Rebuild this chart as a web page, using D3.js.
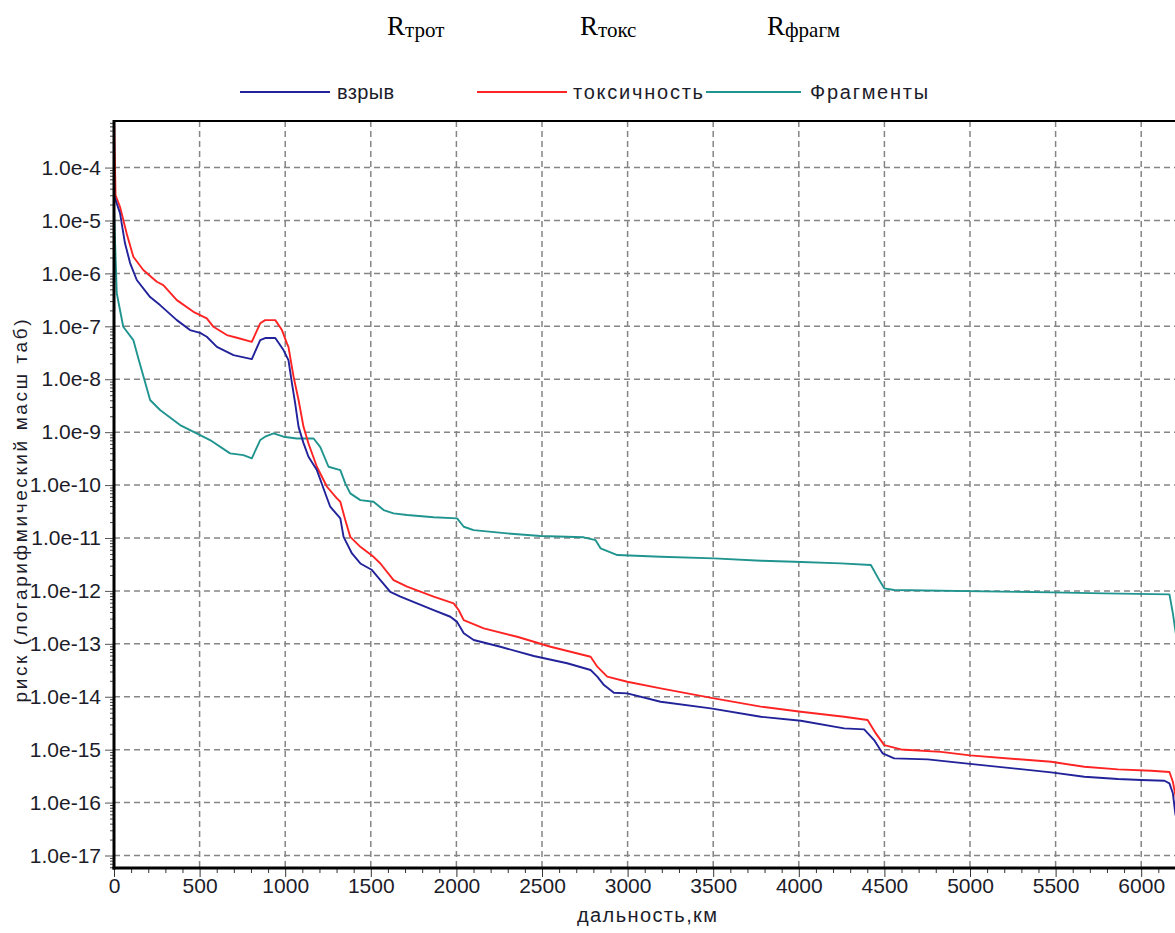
<!DOCTYPE html>
<html>
<head>
<meta charset="utf-8">
<script src="https://cdn.jsdelivr.net/npm/d3@7"></script>
<style>
  html, body { margin: 0; padding: 0; background: #fff; }
  svg { display: block; }
</style>
</head>
<body>
<svg id="chart" width="1175" height="933"></svg>
<script>
// ---- data: risk vs. distance for each hazard ----
const blastKm = [0, 35, 64, 94, 133, 211, 269, 367, 444, 503, 542, 601, 698, 805, 854, 883, 942, 990, 1019, 1039,
  1058, 1078, 1107, 1136, 1185, 1244, 1263, 1322, 1341, 1390, 1439, 1507, 1556, 1614, 1673, 1770, 1867, 1965, 2004,
  2043, 2101, 2257, 2452, 2647, 2784, 2823, 2862, 2920, 2998, 3193, 3486, 3778, 4012, 4265, 4382, 4440, 4490, 4557,
  4753, 5000, 5474, 5668, 5864, 6000, 6136, 6165, 6185, 6199, 6240];
const blastRisk = [3.0e-5, 1.38e-5, 3.74e-6, 1.57e-6, 7.5e-7, 3.57e-7, 2.52e-7, 1.31e-7, 8.5e-8, 7.5e-8, 6.35e-8,
  4.1e-8, 2.86e-8, 2.4e-8, 5.5e-8, 6.0e-8, 6.0e-8, 3.56e-8, 2.3e-8, 8.5e-9, 3.55e-9, 1.26e-9, 6.2e-10, 3.43e-10,
  1.92e-10, 5.7e-11, 3.9e-11, 2.35e-11, 1.05e-11, 5.1e-12, 3.3e-12, 2.48e-12, 1.6e-12, 9.6e-13, 7.8e-13, 5.8e-13,
  4.35e-13, 3.25e-13, 2.6e-13, 1.58e-13, 1.18e-13, 8.8e-14, 5.9e-14, 4.3e-14, 3.2e-14, 2.4e-14, 1.66e-14, 1.19e-14,
  1.16e-14, 8.05e-15, 6.04e-15, 4.19e-15, 3.52e-15, 2.53e-15, 2.42e-15, 1.52e-15, 8.5e-16, 6.85e-16, 6.56e-16,
  5.4e-16, 3.73e-16, 3.08e-16, 2.79e-16, 2.67e-16, 2.59e-16, 2.31e-16, 1.5e-16, 6.3e-17, 1.5e-17];

const toxKm = [0, 9, 35, 74, 113, 171, 250, 288, 367, 464, 542, 581, 659, 718, 805, 854, 883, 942, 981, 1010, 1019,
  1049, 1078, 1107, 1136, 1185, 1244, 1302, 1322, 1351, 1380, 1439, 1516, 1556, 1633, 1712, 1867, 1984, 2013, 2043,
  2160, 2355, 2550, 2784, 2823, 2881, 2998, 3193, 3505, 3778, 4012, 4265, 4402, 4450, 4499, 4597, 4830, 5000, 5474,
  5668, 5864, 6058, 6165, 6185, 6205, 6240];
const toxRisk = [1.0e-3, 3.0e-5, 1.82e-5, 5.7e-6, 2.06e-6, 1.16e-6, 6.95e-7, 6.0e-7, 3.13e-7, 1.88e-7, 1.41e-7,
  9.8e-8, 6.84e-8, 6.08e-8, 5.1e-8, 1.14e-7, 1.31e-7, 1.31e-7, 8.5e-8, 4.76e-8, 4.1e-8, 1.11e-8, 4.05e-9, 1.26e-9,
  6.1e-10, 2.22e-10, 9.3e-11, 5.6e-11, 4.84e-11, 2.18e-11, 1.05e-11, 6.8e-12, 4.4e-12, 3.3e-12, 1.6e-12, 1.2e-12,
  7.8e-13, 5.8e-13, 4.35e-13, 2.8e-13, 1.96e-13, 1.36e-13, 8.8e-14, 5.7e-14, 3.7e-14, 2.4e-14, 1.92e-14, 1.44e-14,
  9.3e-15, 6.5e-15, 5.2e-15, 4.2e-15, 3.63e-15, 2.03e-15, 1.22e-15, 1.01e-15, 9.1e-16, 7.8e-16, 5.9e-16, 4.75e-16,
  4.25e-16, 4.0e-16, 3.78e-16, 2.48e-16, 1.12e-16, 2.0e-17];

const fragKm = [0, 16, 35, 54, 113, 142, 211, 269, 386, 503, 561, 678, 756, 805, 854, 883, 932, 990, 1068, 1166,
  1205, 1253, 1322, 1351, 1380, 1439, 1516, 1575, 1633, 1712, 1867, 2004, 2043, 2101, 2296, 2491, 2744, 2813, 2842,
  2940, 3193, 3505, 3778, 3973, 4246, 4421, 4470, 4499, 4557, 5474, 5786, 6165, 6185, 6205, 6240];
const fragRisk = [1.6e-5, 4.25e-7, 2.03e-7, 9.8e-8, 5.5e-8, 2.5e-8, 4.05e-9, 2.62e-9, 1.36e-9, 8.8e-10, 7.1e-10,
  3.97e-10, 3.69e-10, 3.2e-10, 7.1e-10, 8.2e-10, 9.5e-10, 8.2e-10, 7.6e-10, 7.6e-10, 5.2e-10, 2.22e-10, 1.92e-10,
  1.08e-10, 6.98e-11, 5.2e-11, 4.84e-11, 3.37e-11, 2.92e-11, 2.72e-11, 2.46e-11, 2.35e-11, 1.63e-11, 1.41e-11,
  1.22e-11, 1.09e-11, 1.03e-11, 9.1e-12, 6.4e-12, 4.76e-12, 4.42e-12, 4.12e-12, 3.72e-12, 3.56e-12, 3.32e-12,
  3.08e-12, 1.6e-12, 1.12e-12, 1.04e-12, 9.4e-13, 9.0e-13, 8.6e-13, 3.77e-13, 1.36e-13, 2.0e-14];

const seriesNames = ["взрыв", "токсичность", "Фрагменты"];
const headerSubscripts = ["трот", "токс", "фрагм"];
const xTickValues = [0, 500, 1000, 1500, 2000, 2500, 3000, 3500, 4000, 4500, 5000, 5500, 6000];
const yDecades = [-4, -5, -6, -7, -8, -9, -10, -11, -12, -13, -14, -15, -16, -17];
const xTitle = "дальность,км";
const yTitle = "риск (логарифмический масш таб)";

// ---- layout ----
const svg = d3.select("#chart");
const plotLeft = 114, plotTop = 121, plotBottom = 868, pxPer500 = 85.6;
const xMax = 6300;
const plotRight = plotLeft + xMax / 500 * pxPer500;

const x = d3.scaleLinear().domain([0, xMax]).range([plotLeft, plotRight]);
const y = d3.scaleLog().domain([Math.pow(10, -17.236), Math.pow(10, -3.12)]).range([plotBottom, plotTop]);

const font = "'Liberation Sans', Arial, sans-serif";
const textColor = "#1c1c2a";
const colors = ["#22229a", "#ff2424", "#20948f"];

svg.append("rect").attr("width", 1175).attr("height", 933).attr("fill", "#fff");

// header labels R with subscripts
const headerX = [387, 580, 767];
headerSubscripts.forEach((s, i) => {
  const t = svg.append("text")
    .attr("x", headerX[i]).attr("y", 35)
    .attr("font-family", "'Liberation Serif', 'Times New Roman', serif")
    .attr("fill", "#000");
  t.append("tspan").attr("font-size", 27).text("R");
  t.append("tspan").attr("font-size", 21).attr("dy", 1.5).text(s);
});

// legend
const legendItems = [
  { x1: 240, x2: 330, tx: 337, w: 57 },
  { x1: 477, x2: 567, tx: 573, w: 130 },
  { x1: 706, x2: 801, tx: 810, w: 118 }
];
legendItems.forEach((d, i) => {
  svg.append("line").attr("x1", d.x1).attr("x2", d.x2).attr("y1", 92).attr("y2", 92)
    .attr("stroke", colors[i]).attr("stroke-width", 2);
  svg.append("text").attr("x", d.tx).attr("y", 99)
    .attr("font-family", font).attr("font-size", 20).attr("fill", textColor)
    .attr("textLength", d.w).attr("lengthAdjust", "spacing")
    .text(seriesNames[i]);
});

// grid
const grid = svg.append("g").attr("stroke", "#858585").attr("stroke-width", 1.5)
  .attr("stroke-dasharray", "6,4");
xTickValues.filter(v => v > 0).forEach(v => {
  grid.append("line").attr("x1", x(v)).attr("x2", x(v)).attr("y1", plotTop).attr("y2", plotBottom);
});
yDecades.forEach(e => {
  grid.append("line").attr("x1", plotLeft).attr("x2", 1175)
    .attr("y1", y(Math.pow(10, e))).attr("y2", y(Math.pow(10, e)));
});

// series
svg.append("defs").append("clipPath").attr("id", "plotClip")
  .append("rect").attr("x", plotLeft).attr("y", plotTop)
  .attr("width", plotRight - plotLeft).attr("height", plotBottom - plotTop);

const series = [
  { km: blastKm, risk: blastRisk },
  { km: toxKm, risk: toxRisk },
  { km: fragKm, risk: fragRisk }
];
const line = d3.line().x(d => x(d[0])).y(d => y(d[1]));
const plotG = svg.append("g").attr("clip-path", "url(#plotClip)");
[2, 1, 0].forEach(i => {
  const pts = series[i].km.map((k, j) => [k, series[i].risk[j]]);
  plotG.append("path").datum(pts).attr("d", line)
    .attr("fill", "none").attr("stroke", colors[i]).attr("stroke-width", 1.9)
    .attr("stroke-linejoin", "round");
});

// x axis
const minorX = d3.range(100, xMax, 100).filter(v => v % 500 !== 0);
const gxMinor = svg.append("g").attr("transform", `translate(0,${plotBottom})`)
  .call(d3.axisBottom(x).tickValues(minorX).tickSize(5).tickFormat(""));
gxMinor.select(".domain").remove();
gxMinor.selectAll("line").attr("stroke", "#333");

const gx = svg.append("g").attr("transform", `translate(0,${plotBottom})`)
  .call(d3.axisBottom(x).tickValues(xTickValues).tickSize(9).tickPadding(1).tickFormat(d3.format("d")));
gx.select(".domain").remove();
gx.selectAll("line").attr("stroke", "#333");
gx.selectAll("text").attr("font-family", font).attr("font-size", 21).attr("fill", textColor);

// y axis
const minorY = [];
for (let e = -18; e <= -4; e++) {
  for (let k = 2; k <= 9; k++) {
    const v = k * Math.pow(10, e);
    if (v > y.domain()[0] && v < y.domain()[1]) minorY.push(v);
  }
}
const gyMinor = svg.append("g").attr("transform", `translate(${plotLeft},0)`)
  .call(d3.axisLeft(y).tickValues(minorY).tickSize(4).tickFormat(""));
gyMinor.select(".domain").remove();
gyMinor.selectAll("line").attr("stroke", "#444");

const gy = svg.append("g").attr("transform", `translate(${plotLeft},0)`)
  .call(d3.axisLeft(y).tickValues(yDecades.map(e => Math.pow(10, e))).tickSize(9).tickPadding(4)
    .tickFormat(d => "1.0e" + Math.round(Math.log10(d))));
gy.select(".domain").remove();
gy.selectAll("line").attr("stroke", "#555");
gy.selectAll("text").attr("font-family", font).attr("font-size", 21).attr("fill", textColor);

// frame
svg.append("line").attr("x1", plotLeft).attr("x2", 1175).attr("y1", plotTop).attr("y2", plotTop)
  .attr("stroke", "#000").attr("stroke-width", 2);
svg.append("line").attr("x1", plotLeft).attr("x2", plotLeft).attr("y1", plotTop - 1).attr("y2", plotBottom + 1.5)
  .attr("stroke", "#000").attr("stroke-width", 3);
svg.append("line").attr("x1", plotLeft - 1.5).attr("x2", 1175).attr("y1", plotBottom).attr("y2", plotBottom)
  .attr("stroke", "#000").attr("stroke-width", 3);

// axis titles
svg.append("text").attr("x", 647).attr("y", 922).attr("text-anchor", "middle")
  .attr("font-family", font).attr("font-size", 20).attr("fill", textColor)
  .attr("textLength", 140).attr("lengthAdjust", "spacing").text(xTitle);
svg.append("text").attr("transform", "translate(27,511) rotate(-90)").attr("text-anchor", "middle")
  .attr("font-family", font).attr("font-size", 19).attr("fill", textColor)
  .attr("textLength", 383).attr("lengthAdjust", "spacing").text(yTitle);
</script>
</body>
</html>
